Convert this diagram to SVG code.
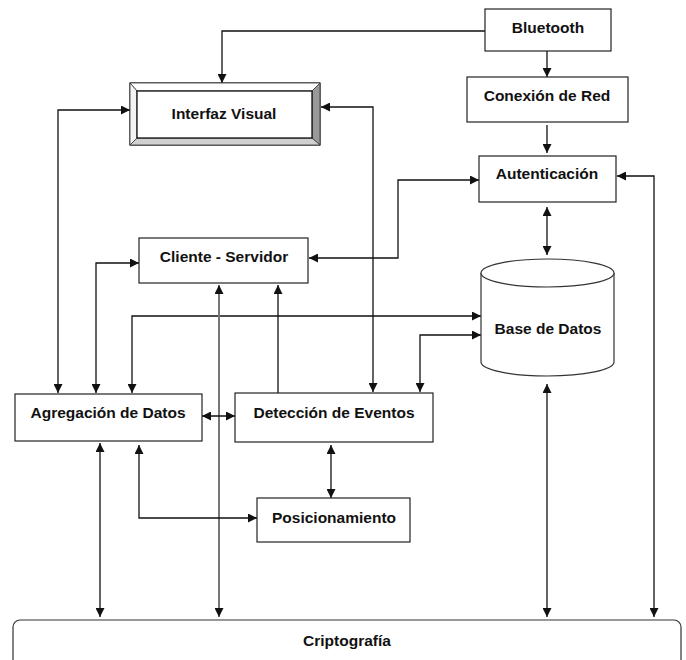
<svg xmlns="http://www.w3.org/2000/svg" width="686" height="660" viewBox="0 0 686 660">
<style>
.box{fill:#fff;stroke:#222;stroke-width:1.2}
.t{font-family:"Liberation Sans",Arial,sans-serif;font-weight:bold;font-size:15.5px;fill:#111;text-anchor:middle}
.c{fill:none;stroke:#111;stroke-width:1.3}
.g{stroke:#777;stroke-width:2}
</style>
<defs>
<marker id="ah" viewBox="0 0 10 10" refX="10" refY="5" markerWidth="9" markerHeight="9" markerUnits="userSpaceOnUse" orient="auto-start-reverse">
<path d="M0,0 L10,5 L0,10 z" fill="#111"/>
</marker>
</defs>
<rect width="686" height="660" fill="#fff"/>
<g id="connectors">
<path class="c" d="M485,31 H222 V83" marker-end="url(#ah)"/>
<path class="c" d="M547,51 V77" marker-end="url(#ah)"/>
<path class="c" d="M547,125 V153" marker-end="url(#ah)"/>
<path class="c" d="M547,207 V255" marker-start="url(#ah)" marker-end="url(#ah)"/>
<path class="c" d="M479,180 H398 V258 H309" marker-start="url(#ah)" marker-end="url(#ah)"/>
<path class="c" d="M617,176 H654 V617" marker-start="url(#ah)" marker-end="url(#ah)"/>
<path class="c" d="M547,384 V617" marker-start="url(#ah)" marker-end="url(#ah)"/>
<path class="c" d="M130,110 H58 V393" marker-start="url(#ah)" marker-end="url(#ah)"/>
<path class="c" d="M321,107 H373 V392" marker-start="url(#ah)" marker-end="url(#ah)"/>
<path class="c" d="M139,263 H96 V393" marker-start="url(#ah)" marker-end="url(#ah)"/>
<path class="c" d="M481,316 H132 V393" marker-start="url(#ah)" marker-end="url(#ah)"/>
<path class="c" d="M481,335 H420 V392" marker-start="url(#ah)" marker-end="url(#ah)"/>
<path class="c" d="M278,393 V285" marker-end="url(#ah)"/>
<path class="c g" d="M219,285 V617" marker-start="url(#ah)" marker-end="url(#ah)"/>
<path class="c" d="M202,416 H235" marker-start="url(#ah)" marker-end="url(#ah)"/>
<path class="c" d="M331,445 V498" marker-start="url(#ah)" marker-end="url(#ah)"/>
<path class="c" d="M139,445 V518 H257" marker-start="url(#ah)" marker-end="url(#ah)"/>
<path class="c" d="M100,443 V617" marker-start="url(#ah)" marker-end="url(#ah)"/>
</g>
<g id="bluetooth">
<rect class="box" x="485" y="9" width="126" height="42"/>
<text class="t" x="548" y="33">Bluetooth</text>
</g>
<g id="conexion">
<rect class="box" x="467" y="77" width="161" height="45"/>
<text class="t" x="547" y="101">Conexión de Red</text>
</g>
<g id="autenticacion">
<rect class="box" x="479" y="156" width="137" height="46"/>
<text class="t" x="547" y="179">Autenticación</text>
</g>
<g id="interfaz">
<rect x="130" y="83" width="190" height="62" fill="#fff" stroke="#222" stroke-width="1.2"/>
<polygon points="312,91 320,83 320,145 312,138" fill="#999" stroke="#333" stroke-width="0.8"/>
<polygon points="137,138 312,138 320,145 130,145" fill="#d0d0d0" stroke="#333" stroke-width="0.8"/>
<polygon points="130,83 320,83 312,91 137,91" fill="#fff" stroke="#333" stroke-width="0.8"/>
<polygon points="130,83 137,91 137,138 130,145" fill="#f4f4f4" stroke="#333" stroke-width="0.8"/>
<rect x="137" y="91" width="175" height="47" fill="#fff" stroke="#111" stroke-width="1.3"/>
<text class="t" x="224" y="119">Interfaz Visual</text>
</g>
<g id="cliente">
<rect class="box" x="139" y="238" width="169" height="45"/>
<text class="t" x="224" y="262">Cliente - Servidor</text>
</g>
<g id="basedatos">
<path d="M481,273 V362 A66.5,14 0 0 0 614,362 V273" fill="#fff" stroke="#333" stroke-width="1.2"/>
<ellipse cx="547.5" cy="273" rx="66.5" ry="14" fill="#fff" stroke="#333" stroke-width="1.2"/>
<text class="t" x="548" y="334">Base de Datos</text>
</g>
<g id="agregacion">
<rect class="box" x="15" y="394" width="187" height="47"/>
<text class="t" x="108" y="418">Agregación de Datos</text>
</g>
<g id="deteccion">
<rect class="box" x="235" y="393" width="198" height="49"/>
<text class="t" x="334" y="418">Detección de Eventos</text>
</g>
<g id="posicionamiento">
<rect class="box" x="257" y="498" width="153" height="44"/>
<text class="t" x="334" y="523">Posicionamiento</text>
</g>
<g id="criptografia">
<rect x="13" y="620" width="668" height="50" rx="7" fill="#fff" stroke="#333" stroke-width="1.2"/>
<text class="t" x="347" y="646">Criptografía</text>
</g>
</svg>
